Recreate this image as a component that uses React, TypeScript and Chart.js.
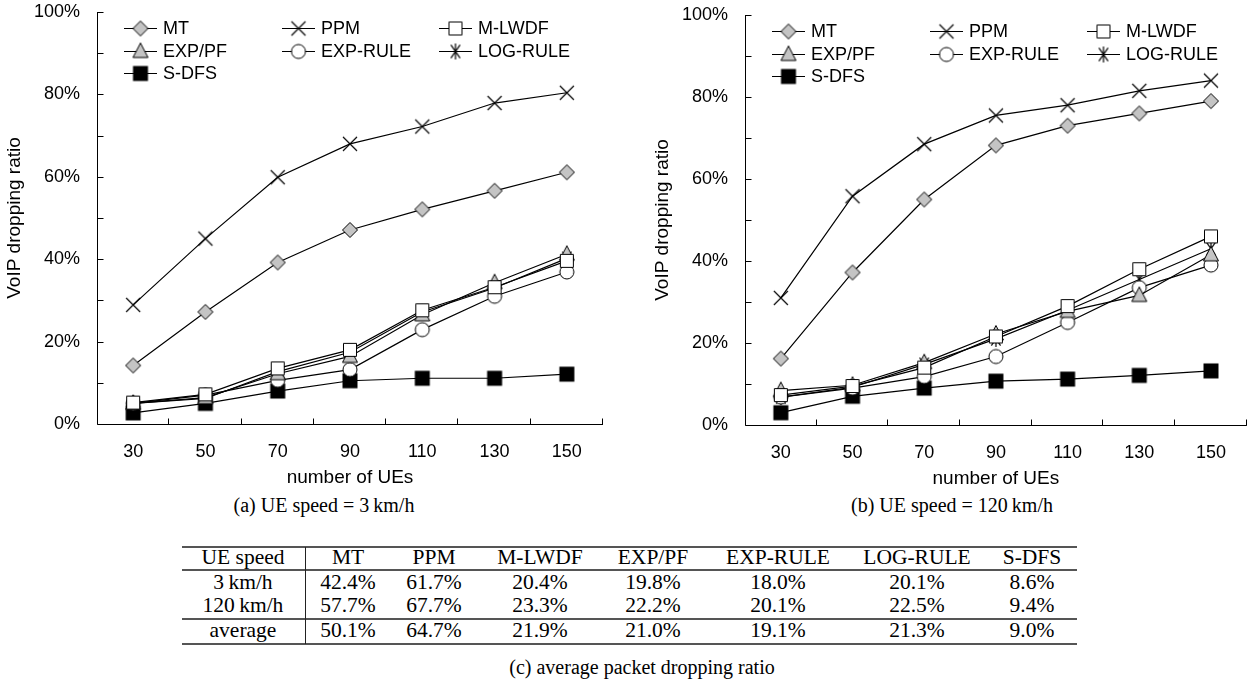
import React, { useEffect, useRef } from 'react';
import { Chart, registerables } from 'chart.js';

Chart.register(...registerables);

// ---------- data ----------
const categories = ['30', '50', '70', '90', '110', '130', '150'];
const seriesNames = ['MT', 'PPM', 'M-LWDF', 'EXP/PF', 'EXP-RULE', 'LOG-RULE', 'S-DFS'];

// (a) UE speed = 3 km/h  (VoIP dropping ratio, %)
const mt3 = [14.2, 27.2, 39.2, 47.1, 52.1, 56.6, 61.1];
const ppm3 = [28.9, 45.0, 59.9, 68.0, 72.2, 77.9, 80.4];
const mlwdf3 = [5.2, 7.2, 13.5, 18.0, 27.6, 33.2, 39.6];
const exppf3 = [5.0, 6.4, 12.2, 16.4, 26.5, 34.3, 41.2];
const exprule3 = [5.0, 7.0, 10.6, 13.2, 22.9, 31.0, 36.9];
const logrule3 = [5.0, 6.2, 12.7, 17.4, 27.2, 33.0, 40.2];
const sdfs3 = [2.7, 5.0, 8.0, 10.5, 11.1, 11.1, 12.1];

// (b) UE speed = 120 km/h
const mt120 = [16.2, 37.2, 55.0, 68.2, 73.0, 76.0, 79.0];
const ppm120 = [31.0, 55.8, 68.5, 75.5, 78.0, 81.5, 84.0];
const mlwdf120 = [7.3, 9.5, 14.0, 21.6, 29.0, 38.0, 46.0];
const exppf120 = [8.4, 9.7, 15.2, 22.2, 27.7, 31.6, 41.5];
const exprule120 = [6.8, 9.0, 11.8, 16.7, 25.0, 33.5, 39.0];
const logrule120 = [6.8, 9.2, 14.8, 21.0, 28.0, 35.5, 43.0];
const sdfs120 = [3.0, 7.0, 9.0, 10.7, 11.2, 12.1, 13.2];

// y axis
const yMin = 0;
const yMax = 100;
const yMinorStep = 10;
const yLabelStep = 20;

// (c) table: average packet dropping ratio
const tableHeader = ['UE speed', ...seriesNames];
const tableRowLabels = ['3\u2009km/h', '120\u2009km/h', 'average'];
const avg3 = [42.4, 61.7, 20.4, 19.8, 18.0, 20.1, 8.6];
const avg120 = [57.7, 67.7, 23.3, 22.2, 20.1, 22.5, 9.4];
const avgAll = [50.1, 64.7, 21.9, 21.0, 19.1, 21.3, 9.0];

// ---------- styles ----------
const SANS = "'Liberation Sans', Arial, sans-serif";
const SERIF = "'Liberation Serif', 'Times New Roman', serif";
const GRAY = '#c4c4c4';
const markerKinds = ['diamond', 'x', 'square', 'triangle', 'circle', 'asterisk', 'filled'];

function makeMarker(kind: string): HTMLCanvasElement {
  const s = 26;
  const c = document.createElement('canvas');
  c.width = s;
  c.height = s;
  const g = c.getContext('2d')!;
  g.translate(s / 2, s / 2);
  g.strokeStyle = '#000';
  g.lineWidth = 1;
  g.beginPath();
  switch (kind) {
    case 'diamond':
      g.moveTo(0, -7.5); g.lineTo(7.5, 0); g.lineTo(0, 7.5); g.lineTo(-7.5, 0); g.closePath();
      g.fillStyle = GRAY; g.fill(); g.stroke();
      break;
    case 'x':
      g.lineWidth = 1.2;
      g.moveTo(-7, -7); g.lineTo(7, 7); g.moveTo(7, -7); g.lineTo(-7, 7);
      g.stroke();
      break;
    case 'square':
      g.rect(-6.5, -6.5, 13, 13);
      g.fillStyle = '#fff'; g.fill(); g.stroke();
      break;
    case 'triangle':
      g.moveTo(0, -8.5); g.lineTo(7.5, 6); g.lineTo(-7.5, 6); g.closePath();
      g.fillStyle = GRAY; g.fill(); g.stroke();
      break;
    case 'circle':
      g.arc(0, 0, 7, 0, Math.PI * 2);
      g.fillStyle = '#fff'; g.fill(); g.stroke();
      break;
    case 'asterisk': {
      g.lineWidth = 1.2;
      g.moveTo(0, -8); g.lineTo(0, 8);
      const a = (55 * Math.PI) / 180;
      const r = 8;
      g.moveTo(-r * Math.cos(a), -r * Math.sin(a)); g.lineTo(r * Math.cos(a), r * Math.sin(a));
      g.moveTo(r * Math.cos(a), -r * Math.sin(a)); g.lineTo(-r * Math.cos(a), r * Math.sin(a));
      g.stroke();
      break;
    }
    case 'filled':
      g.rect(-7.5, -7.5, 15, 15);
      g.fillStyle = '#000'; g.fill();
      break;
  }
  return c;
}

function makeDecoPlugin(markers: HTMLCanvasElement[]) {
  return {
    id: 'deco',
    beforeDatasetsDraw(chart: any) {
      const { ctx, chartArea: a } = chart;
      const y = chart.scales.y;
      ctx.save();
      ctx.strokeStyle = '#000';
      ctx.lineWidth = 1;
      ctx.beginPath();
      const lx = Math.round(a.left) + 0.5;
      const by = Math.round(a.bottom) + 0.5;
      ctx.moveTo(lx, a.top);
      ctx.lineTo(lx, by);
      ctx.lineTo(a.right, by);
      for (let v = yMin; v <= yMax; v += yMinorStep) {
        const py = Math.round(y.getPixelForValue(v)) + 0.5;
        ctx.moveTo(lx, py);
        ctx.lineTo(lx + 6, py);
      }
      const n = categories.length;
      for (let i = 1; i <= n; i++) {
        const px = Math.round(a.left + ((a.right - a.left) * i) / n) - 0.5;
        ctx.moveTo(px, by);
        ctx.lineTo(px, by - 6);
      }
      ctx.stroke();
      ctx.restore();
    },
    afterDraw(chart: any) {
      const { ctx, chartArea: a } = chart;
      const colX = [27, 185, 342];
      const rowY = [16, 39, 61];
      ctx.save();
      ctx.font = `18px ${SANS}`;
      ctx.textBaseline = 'middle';
      ctx.fillStyle = '#000';
      ctx.strokeStyle = '#000';
      ctx.lineWidth = 1.2;
      seriesNames.forEach((name, i) => {
        const x = a.left + colX[i % 3];
        const yy = Math.round(a.top + rowY[Math.floor(i / 3)]) + 0.5;
        ctx.beginPath();
        ctx.moveTo(x, yy);
        ctx.lineTo(x + 33, yy);
        ctx.stroke();
        const m = markers[i];
        ctx.drawImage(m, x + 16.5 - m.width / 2, yy - m.height / 2);
        ctx.fillText(name, x + 39, yy + 1);
      });
      ctx.restore();
    },
  };
}

function LineChart(props: {
  series: number[][];
  width: number;
  height: number;
  padTop: number;
  padRight: number;
  bottom: number;
  left: number;
}) {
  const ref = useRef<HTMLCanvasElement | null>(null);
  useEffect(() => {
    const canvas = ref.current;
    if (!canvas) return;
    const markers = markerKinds.map(makeMarker);
    const chart = new Chart(canvas, {
      type: 'line',
      data: {
        labels: categories,
        datasets: props.series.map((d, i) => ({
          label: seriesNames[i],
          data: d,
          borderColor: '#000',
          borderWidth: 1.2,
          backgroundColor: '#000',
          pointStyle: markers[i] as any,
          pointRadius: 6,
          pointHoverRadius: 6,
          tension: 0,
          fill: false,
        })),
      },
      options: {
        animation: false,
        responsive: false,
        maintainAspectRatio: false,
        events: [],
        layout: { padding: { top: props.padTop, right: props.padRight, left: 0, bottom: 0 } },
        plugins: { legend: { display: false }, tooltip: { enabled: false } },
        scales: {
          x: {
            type: 'category',
            offset: true,
            grid: { display: false, drawTicks: false },
            border: { display: false },
            ticks: {
              font: { family: SANS, size: 18 },
              color: '#000',
              padding: 17,
              maxRotation: 0,
              autoSkip: false,
            },
            title: {
              display: true,
              text: 'number of UEs',
              font: { family: SANS, size: 19 },
              color: '#000',
              padding: { top: 0, bottom: 1 },
            },
            afterFit: (s: any) => {
              s.height = props.height - props.bottom;
              s.paddingLeft = 0;
              s.paddingRight = 0;
            },
          },
          y: {
            min: yMin,
            max: yMax,
            grid: { display: false, drawTicks: false },
            border: { display: false },
            ticks: {
              stepSize: yMinorStep,
              autoSkip: false,
              font: { family: SANS, size: 18 },
              color: '#000',
              padding: 17,
              callback: (v: any) => (Number(v) % yLabelStep === 0 ? `${v}%` : ''),
            },
            title: {
              display: true,
              text: 'VoIP dropping ratio',
              font: { family: SANS, size: 19 },
              color: '#000',
              padding: { top: 3, bottom: 0 },
            },
            afterFit: (s: any) => {
              s.width = 97;
              s.paddingTop = 0;
              s.paddingBottom = 0;
            },
          },
        },
      },
      plugins: [makeDecoPlugin(markers)],
    } as any);
    return () => chart.destroy();
  }, []);
  return (
    <canvas
      ref={ref}
      width={props.width}
      height={props.height}
      style={{ position: 'absolute', left: props.left, top: 0, width: props.width, height: props.height }}
    />
  );
}

const fmt = (v: number) => `${v.toFixed(1)}%`;

export default function App() {
  const colCenters = [243, 348, 434, 540, 653, 778, 917, 1032];
  const rowCenters = [557, 582, 605, 630];
  const tableLeft = 182;
  const tableRight = 1077;
  const rows: string[][] = [
    tableHeader,
    [tableRowLabels[0], ...avg3.map(fmt)],
    [tableRowLabels[1], ...avg120.map(fmt)],
    [tableRowLabels[2], ...avgAll.map(fmt)],
  ];
  const hLines = [546, 569, 618, 643];
  const captionStyle: React.CSSProperties = {
    position: 'absolute',
    width: 500,
    textAlign: 'center',
    fontFamily: SERIF,
    fontSize: 20,
    lineHeight: '24px',
    color: '#000',
    whiteSpace: 'nowrap',
  };
  return (
    <div
      style={{
        position: 'fixed',
        left: 0,
        top: 0,
        width: 1254,
        height: 684,
        background: '#fff',
        overflow: 'hidden',
      }}
    >
      <LineChart
        series={[mt3, ppm3, mlwdf3, exppf3, exprule3, logrule3, sdfs3]}
        width={620}
        height={490}
        padTop={12}
        padRight={17}
        bottom={424}
        left={0}
      />
      <LineChart
        series={[mt120, ppm120, mlwdf120, exppf120, exprule120, logrule120, sdfs120]}
        width={606}
        height={491}
        padTop={15}
        padRight={4}
        bottom={425}
        left={648}
      />
      <div style={{ ...captionStyle, left: 324 - 250, top: 505 - 12 }}>(a) UE speed = 3{'\u2009'}km/h</div>
      <div style={{ ...captionStyle, left: 952 - 250, top: 505 - 12 }}>(b) UE speed = 120{'\u2009'}km/h</div>

      {hLines.map((y, i) => (
        <div
          key={'h' + i}
          style={{
            position: 'absolute',
            left: tableLeft,
            top: y,
            width: tableRight - tableLeft,
            height: 2,
            background: '#555',
          }}
        />
      ))}
      <div
        style={{ position: 'absolute', left: 305, top: 547, width: 1, height: 97, background: '#222' }}
      />
      {rows.map((r, ri) =>
        r.map((txt, ci) => (
          <div
            key={ri + '-' + ci}
            style={{
              position: 'absolute',
              left: colCenters[ci] - 70,
              width: 140,
              top: rowCenters[ri] - 12,
              height: 24,
              lineHeight: '24px',
              textAlign: 'center',
              fontFamily: SERIF,
              fontSize: 21.5,
              color: '#000',
              whiteSpace: 'nowrap',
            }}
          >
            {txt}
          </div>
        ))
      )}
      <div style={{ ...captionStyle, left: 642 - 250, top: 667 - 12 }}>(c) average packet dropping ratio</div>
    </div>
  );
}
